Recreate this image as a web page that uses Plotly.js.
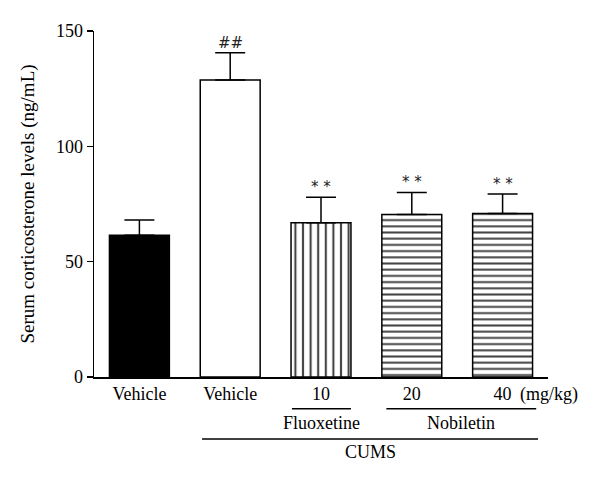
<!DOCTYPE html>
<html>
<head>
<meta charset="utf-8">
<script src="https://cdn.plot.ly/plotly-3.0.1.min.js"></script>
<style>html,body{margin:0;padding:0;background:#fff;}#chart{width:600px;height:485px;}</style>
</head>
<body>
<div id="chart"></div>
<script>
// ---- data ----
var tickLabels = ['Vehicle', 'Vehicle', '10', '20', '40'];
var meanValues = [61.5, 128.8, 66.9, 70.5, 70.9];
var semValues = [6.6, 11.8, 11.0, 9.5, 8.4];
var markText = ['', '##', '* *', '* *', '* *'];
var barColors = ['black', 'white', 'white', 'white', 'white'];
var patternShapes = ['', '', '|', '-', '-'];
var groupNames = ['Fluoxetine', 'Nobiletin', 'CUMS'];
var groupStart = [1.68, 2.72, 0.69];
var groupEnd = [2.33, 4.37, 4.39];
var groupRow = [0, 0, 1];
var unitLabel = '(mg/kg)';
var yTitle = 'Serum corticosterone levels (ng/mL)';

var xIdx = tickLabels.map(function (_, i) { return i; });
var FONT = "'Liberation Serif', 'Times New Roman', serif";

var trace = {
  type: 'bar',
  x: xIdx,
  y: meanValues,
  width: 0.66,
  marker: {
    color: barColors,
    line: { color: 'black', width: 1.5 },
    pattern: {
      shape: patternShapes,
      fgcolor: 'black',
      fgopacity: 1,
      bgcolor: barColors,
      size: [8, 8, 7.6, 6.2, 6.2],
      solidity: [0.3, 0.3, 0.28, 0.32, 0.32],
      fillmode: 'overlay'
    }
  },
  error_y: {
    type: 'data', symmetric: false,
    array: semValues,
    arrayminus: semValues.map(function () { return 0; }),
    color: 'black', thickness: 1.5, width: 15
  },
  hoverinfo: 'none'
};

var annotations = [];
xIdx.forEach(function (i) {
  if (markText[i]) {
    annotations.push({
      x: i, y: meanValues[i] + semValues[i], xref: 'x', yref: 'y',
      text: markText[i], showarrow: false, yanchor: 'bottom', yshift: -1,
      font: { family: "'DejaVu Sans', sans-serif", size: 15, color: '#222222' }
    });
  }
});
annotations.push({
  x: 4, y: 0, xref: 'x', yref: 'y', text: unitLabel, showarrow: false,
  xanchor: 'left', yanchor: 'top', xshift: 15, yshift: -5,
  font: { family: FONT, size: 18, color: 'black' }
});
var rowLineY = [-0.0916, -0.179];
var rowTextY = [-0.133, -0.217];
var shapes = [];
groupNames.forEach(function (g, k) {
  var r = groupRow[k];
  shapes.push({
    type: 'line', xref: 'x', yref: 'paper',
    x0: groupStart[k], x1: groupEnd[k], y0: rowLineY[r], y1: rowLineY[r],
    line: { color: 'black', width: 1.5 }
  });
  annotations.push({
    x: (groupStart[k] + groupEnd[k]) / 2, y: rowTextY[r], xref: 'x', yref: 'paper',
    text: g, showarrow: false, yanchor: 'middle',
    font: { family: FONT, size: 18, color: 'black' }
  });
});

var layout = {
  width: 600, height: 485,
  margin: { l: 94, r: 52, t: 31, b: 108 },
  paper_bgcolor: 'white', plot_bgcolor: 'white',
  showlegend: false,
  font: { family: FONT, size: 18, color: 'black' },
  xaxis: {
    range: [-0.5, 4.5],
    tickvals: xIdx, ticktext: tickLabels,
    showline: true, linecolor: 'black', linewidth: 1.5,
    ticks: '', showgrid: false, zeroline: false,
    tickfont: { family: FONT, size: 18, color: 'black' }
  },
  yaxis: {
    range: [0, 150],
    tickvals: [0, 50, 100, 150],
    showline: true, linecolor: 'black', linewidth: 1.5,
    ticks: 'outside', ticklen: 6, tickwidth: 1.5, tickcolor: 'black',
    showgrid: false, zeroline: false,
    tickfont: { family: FONT, size: 18, color: 'black' },
    title: { text: yTitle, font: { family: FONT, size: 19, color: 'black' }, standoff: 16 }
  },
  shapes: shapes,
  annotations: annotations
};

Plotly.newPlot('chart', [trace], layout, { displayModeBar: false, staticPlot: true });
</script>
</body>
</html>
